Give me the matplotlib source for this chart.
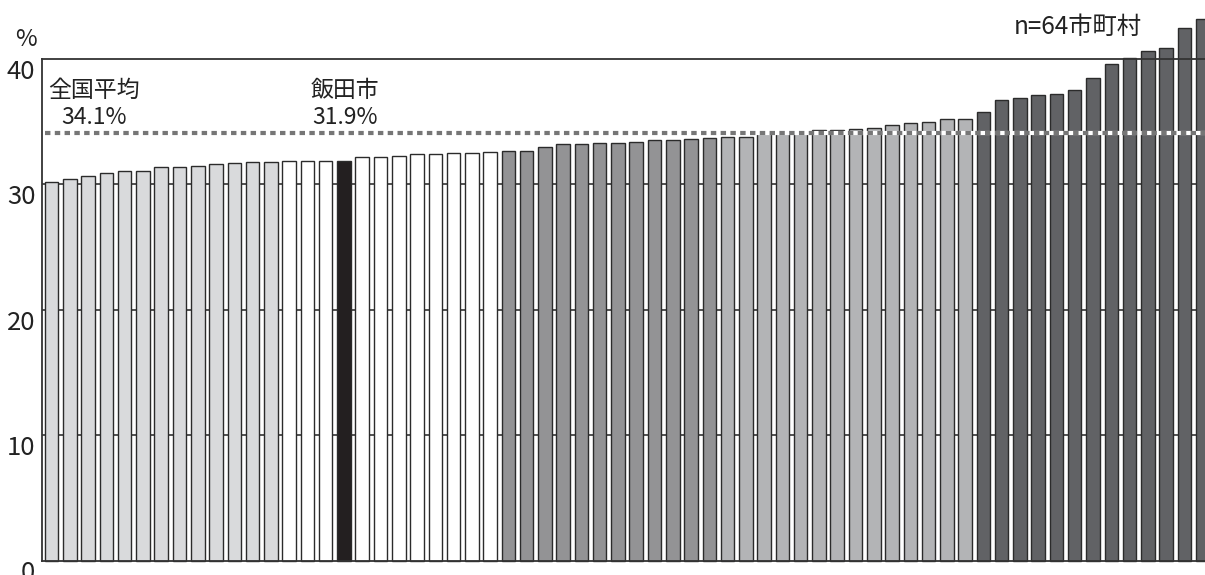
import matplotlib
matplotlib.use("Agg")
import matplotlib.pyplot as plt
import numpy as np

plt.rcParams['font.family'] = ['Noto Sans CJK JP', 'DejaVu Sans']

# ---- data ----
values = [30.2, 30.4, 30.7, 30.9, 31.1, 31.1, 31.4, 31.4, 31.5, 31.6,
          31.7, 31.8, 31.8, 31.9, 31.9, 31.9, 31.9, 32.2, 32.2, 32.3,
          32.4, 32.4, 32.5, 32.5, 32.6, 32.7, 32.7, 33.0, 33.2, 33.2,
          33.3, 33.3, 33.4, 33.5, 33.5, 33.6, 33.7, 33.8, 33.8, 34.1,
          34.1, 34.2, 34.3, 34.3, 34.4, 34.5, 34.7, 34.9, 35.0, 35.2,
          35.2, 35.8, 36.7, 36.9, 37.1, 37.2, 37.5, 38.5, 39.6, 40.1,
          40.6, 40.9, 42.5, 43.2]
group_sizes = [13, 12, 12, 14, 13]
group_colors = ['#d9dadc', '#ffffff', '#939395', '#b3b4b6', '#616265']
highlight_index = 16          # 飯田市
highlight_color = '#231f20'
national_avg = 34.1
iida_value = 31.9
yticks = [0, 10, 20, 30, 40]
n_label = 'n=64市町村'

# ---- figure ----
W, H = 1205, 575
fig = plt.figure(figsize=(W / 100, H / 100), dpi=100)
ax_left, ax_right, ax_top, ax_bottom = 42.3, 1205, 59, 560.5
ax = fig.add_axes([ax_left / W, 1 - ax_bottom / H,
                   (ax_right - ax_left) / W, (ax_bottom - ax_top) / H])

colors = []
for size, c in zip(group_sizes, group_colors):
    colors += [c] * size
colors[highlight_index] = highlight_color

x = np.arange(len(values))
bars = ax.bar(x, values, width=0.74, color=colors, edgecolor='#2b2b2b',
              linewidth=1.0, zorder=3)
for b in bars:
    b.set_clip_on(False)

ax.set_xlim(-0.51, len(values) - 1 + 0.13)
ax.set_ylim(0, 40)

# gridlines
for yv in yticks[1:-1]:
    ax.axhline(yv, color='#333333', linewidth=1.2, zorder=1)

# national average line (white underlay + gray dashes)
ax.plot([-0.35, len(values)], [national_avg, national_avg], color='white',
        linewidth=3.0, zorder=4, solid_capstyle='butt', clip_on=False)
ax.plot([-0.35, len(values)], [national_avg, national_avg], color='#767676',
        linewidth=3.0, zorder=5, dashes=(1.3, 1.05), dash_capstyle='butt',
        clip_on=False)

# spines
for s in ['left', 'bottom', 'top']:
    ax.spines[s].set_color('#333333')
    ax.spines[s].set_linewidth(1.3)
    ax.spines[s].set_zorder(6)
ax.spines['right'].set_visible(False)

ax.set_xticks([])
ax.set_yticks(yticks)
ax.set_yticklabels([str(v) for v in yticks], fontsize=18.5, color='#222222',
                   va='top')
ax.tick_params(axis='y', length=0, pad=5)

def px(xp, yp):
    return xp / W, 1 - yp / H

fig.text(*px(26, 40), '%', fontsize=17, ha='center', va='center', color='#222222')
fig.text(*px(94, 104), f'全国平均\n{national_avg}%', fontsize=16.5, ha='center',
         va='center', multialignment='center', linespacing=1.2, color='#222222')
fig.text(*px(345, 104), f'飯田市\n{iida_value}%', fontsize=16.5, ha='center',
         va='center', multialignment='center', linespacing=1.2, color='#222222')
fig.text(*px(1078, 27), n_label, fontsize=17.5, ha='center', va='center',
         color='#222222')

fig.savefig('out.png', dpi=100)
